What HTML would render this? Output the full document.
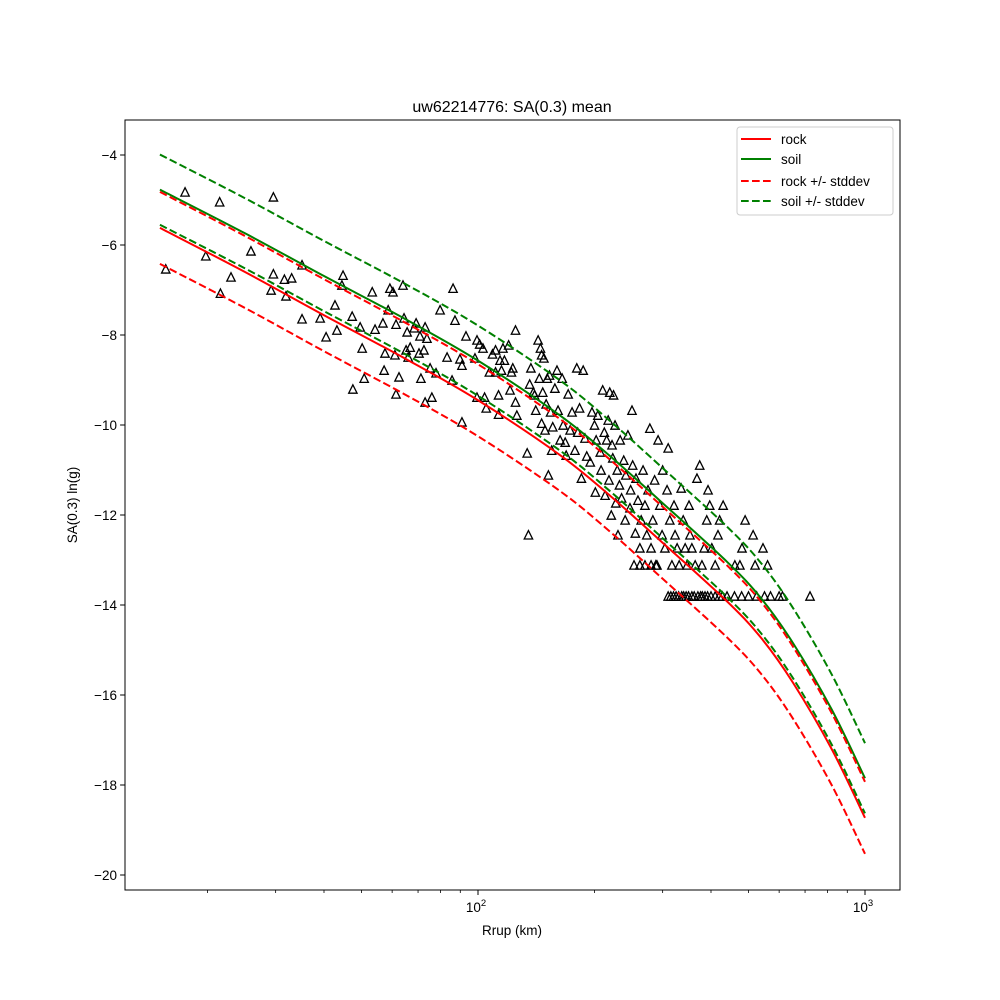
<!DOCTYPE html>
<html><head><meta charset="utf-8"><style>
body{margin:0;background:#fff;}
svg{display:block;font-family:"Liberation Sans","DejaVu Sans",sans-serif;}
</style></head><body>
<svg id="chart" width="1000" height="1000" viewBox="0 0 1000 1000" xmlns="http://www.w3.org/2000/svg">
<rect width="1000" height="1000" fill="#fff"/>
<text x="512" y="112" text-anchor="middle" font-size="16">uw62214776: SA(0.3) mean</text>
<g id="plot"></g>
<rect x="125" y="120" width="775" height="770" fill="none" stroke="#000" stroke-width="1"/>
<text x="512" y="935" text-anchor="middle" font-size="13.5">Rrup (km)</text>
<text transform="translate(77,505) rotate(-90)" text-anchor="middle" font-size="13.5">SA(0.3) ln(g)</text>
<g>
<rect x="737" y="127" width="156" height="88" rx="3" fill="#fff" fill-opacity="0.8" stroke="#ccc" stroke-width="1"/>
<line x1="741" y1="139" x2="771" y2="139" stroke="#ff0000" stroke-width="2"/>
<text x="781" y="144" font-size="13.5">rock</text>
<line x1="741" y1="159" x2="771" y2="159" stroke="#008000" stroke-width="2"/>
<text x="781" y="164" font-size="13.5">soil</text>
<line x1="741" y1="181" x2="771" y2="181" stroke="#ff0000" stroke-width="2" stroke-dasharray="7.7,3.3"/>
<text x="781" y="186" font-size="13.5">rock +/- stddev</text>
<line x1="741" y1="201" x2="771" y2="201" stroke="#008000" stroke-width="2" stroke-dasharray="7.7,3.3"/>
<text x="781" y="206" font-size="13.5">soil +/- stddev</text>
</g>
</svg>
<script>
const curveDist = [15.07,25,40,65,100,163,220,295,440,540,652,820,1000];
const rockMean = [-5.62,-6.60,-7.56,-8.53,-9.45,-10.67,-11.58,-12.56,-13.92,-14.74,-15.73,-17.20,-18.73];
const soilMean = [-4.77,-5.74,-6.69,-7.65,-8.57,-9.79,-10.70,-11.68,-13.04,-13.86,-14.85,-16.32,-17.85];
const rockStd = 0.8;
const soilStd = 0.78;
const yTicks = [-4,-6,-8,-10,-12,-14,-16,-18,-20];
const xMajor = [100,1000];
const xMinor = [20,30,40,50,60,70,80,90,200,300,400,500,600,700,800,900];
const obsDist = [15.6,17.5,19.8,21.5,21.6,23,25.9,29.2,29.6,29.6,31.6,31.9,33,35.1,35.1,39.1,40.5,42.7,43.2,44.5,44.8,47.3,47.5,49.6,50.2,50.8,53.3,54.2,56.8,57.2,57.5,58.6,59.2,60.3,61,61.4,61.4,62.5,64,64.4,65.2,65.6,66,66.8,68.4,69.2,70.4,70.8,71.2,72.5,73,73,73.8,75.2,76,77.9,79.8,83.2,85.7,86.2,87.2,89.8,90.9,90.9,93.1,98.2,99.4,99.4,101,103,104,105,107,109,111,111,113,113,114,115,116,117,120,121,122,123,125,125,126,134,135,136,137,139,140,141,143,144,145,146,146,147,148,149,150,151,152,153,154,155,156,158,160,161,163,165,166,168,169,171,173,175,178,180,181,183,185,187,189,191,195,197,200,201,202,204,207,208,210,212,213,215,217,218,219,221,222,223,224,226,227,229,230,232,233,235,238,240,241,244,247,248,250,251,255,256,259,262,264,267,270,273,275,278,280,283,286,288,292,295,299,300,304,308,310,313,317,321,323,327,331,335,339,343,347,351,353,357,364,368,374,379,384,390,393,397,402,410,417,421,430,461,475,481,490,520,545,560,514,253,262,270,280,290,310,315,320,325,330,336,340,345,350,357,362,370,376,380,386,392,400,410,420,428,440,460,480,500,525,550,570,600,612,721];
const obsVal = [-6.53,-4.82,-6.24,-5.04,-7.07,-6.71,-6.13,-7.0,-4.93,-6.64,-6.76,-7.13,-6.73,-6.44,-7.64,-7.62,-8.04,-7.33,-7.89,-6.89,-6.67,-7.58,-9.2,-7.82,-8.29,-8.96,-7.04,-7.87,-7.73,-8.78,-8.4,-7.44,-6.96,-7.04,-8.44,-7.76,-9.31,-8.93,-6.89,-7.62,-8.33,-7.93,-8.49,-8.27,-7.84,-7.73,-8.4,-8.02,-8.96,-8.33,-7.82,-9.49,-8.07,-8.73,-9.38,-8.84,-7.44,-8.49,-9.0,-6.96,-7.67,-8.53,-9.93,-8.67,-8.02,-8.51,-9.38,-8.11,-8.2,-8.29,-9.38,-9.62,-8.82,-8.42,-8.33,-8.82,-9.76,-9.33,-8.56,-8.78,-8.29,-8.56,-8.22,-9.22,-8.82,-8.73,-7.89,-9.49,-9.78,-10.62,-12.44,-9.09,-8.73,-9.27,-9.33,-9.67,-8.11,-8.96,-8.29,-9.96,-8.44,-9.27,-8.51,-10.11,-9.53,-8.96,-11.11,-8.89,-9.71,-10.56,-10.04,-9.18,-8.78,-9.67,-10.33,-8.96,-10.0,-10.38,-10.67,-9.31,-10.11,-9.71,-10.56,-8.73,-10.16,-9.62,-11.18,-8.78,-10.29,-10.69,-10.82,-9.71,-10.0,-11.49,-10.33,-9.78,-10.6,-11.0,-9.22,-10.16,-11.56,-10.33,-9.89,-11.22,-9.27,-12.0,-10.44,-10.73,-9.33,-10.0,-11.73,-11.0,-12.44,-11.33,-10.33,-11.62,-10.78,-12.11,-11.11,-10.22,-11.84,-11.44,-9.67,-10.89,-12.4,-11.18,-11.67,-12.73,-12.11,-11.0,-11.78,-12.44,-11.44,-10.07,-12.73,-12.11,-11.22,-13.11,-10.33,-11.78,-12.44,-11.0,-12.73,-11.44,-10.51,-12.11,-13.11,-11.78,-12.44,-12.73,-13.11,-11.4,-12.11,-12.73,-13.11,-11.78,-12.44,-12.73,-13.11,-11.18,-10.89,-13.11,-12.73,-12.11,-11.44,-11.78,-12.73,-13.11,-12.44,-12.11,-11.78,-13.11,-13.11,-12.73,-12.11,-13.11,-12.73,-13.11,-12.44,-13.11,-13.11,-13.11,-13.11,-13.11,-13.8,-13.8,-13.8,-13.8,-13.8,-13.8,-13.8,-13.8,-13.8,-13.8,-13.8,-13.8,-13.8,-13.8,-13.8,-13.8,-13.8,-13.8,-13.8,-13.8,-13.8,-13.8,-13.8,-13.8,-13.8,-13.8,-13.8,-13.8,-13.8,-13.8];

const NS = "http://www.w3.org/2000/svg";
const plot = document.getElementById('plot');
const svg = document.getElementById('chart');
function xPos(r){ return 478 + (Math.log10(r) - 2) * 387; }
function yPos(v){ return 155 + (-4 - v) * 45; }
function mk(tag, attrs, parent){
  const el = document.createElementNS(NS, tag);
  for (const k in attrs) el.setAttribute(k, attrs[k]);
  (parent || plot).appendChild(el);
  return el;
}
function smoothPath(pts){
  let d = `M${pts[0][0].toFixed(2)},${pts[0][1].toFixed(2)}`;
  for (let i = 0; i < pts.length - 1; i++){
    const p0 = pts[Math.max(0, i-1)], p1 = pts[i], p2 = pts[i+1], p3 = pts[Math.min(pts.length-1, i+2)];
    const c1x = p1[0] + (p2[0]-p0[0])/6, c1y = p1[1] + (p2[1]-p0[1])/6;
    const c2x = p2[0] - (p3[0]-p1[0])/6, c2y = p2[1] - (p3[1]-p1[1])/6;
    d += ` C${c1x.toFixed(2)},${c1y.toFixed(2)} ${c2x.toFixed(2)},${c2y.toFixed(2)} ${p2[0].toFixed(2)},${p2[1].toFixed(2)}`;
  }
  return d;
}
function curve(vals, off, color, dashed, name){
  const pts = curveDist.map((d,i)=>[xPos(d), yPos(vals[i]+off)]);
  const el = mk('path', {d: smoothPath(pts), fill: 'none', stroke: color, 'stroke-width': 2});
  if (dashed) el.setAttribute('stroke-dasharray', '7.7,3.3');
  
  
}
for (let i = 0; i < obsDist.length; i++){
  const x = xPos(obsDist[i]), y = yPos(obsVal[i]);
  const el = mk('path', {d: `M${x.toFixed(2)},${(y-4.2).toFixed(2)} L${(x-4.2).toFixed(2)},${(y+4.2).toFixed(2)} L${(x+4.2).toFixed(2)},${(y+4.2).toFixed(2)} Z`, fill: 'none', stroke: '#000', 'stroke-width': 1.3});
  
  
}
curve(rockMean, 0, '#ff0000', false, 'rock-mean-line');
curve(soilMean, 0, '#008000', false, 'soil-mean-line');
curve(rockMean, rockStd, '#ff0000', true, 'rock-plus-stddev-line');
curve(rockMean, -rockStd, '#ff0000', true, 'rock-minus-stddev-line');
curve(soilMean, soilStd, '#008000', true, 'soil-plus-stddev-line');
curve(soilMean, -soilStd, '#008000', true, 'soil-minus-stddev-line');
yTicks.forEach(v=>{
  const y = yPos(v);
  const t = mk('line', {x1: 120.1, x2: 125, y1: y, y2: y, stroke: '#000', 'stroke-width': 1}, svg);
  
  
  const l = mk('text', {x: 117, y: y + 5, 'text-anchor': 'end', 'font-size': 13.5}, svg);
  l.textContent = '\u2212' + Math.abs(v);
  
  
});
xMajor.forEach(r=>{
  const x = xPos(r);
  const t = mk('line', {x1: x, x2: x, y1: 890, y2: 895, stroke: '#000', 'stroke-width': 1}, svg);
  
  
  const l = mk('text', {x: x - 2, y: 912, 'text-anchor': 'middle', 'font-size': 13.5}, svg);
  l.textContent = '10';
  const s = document.createElementNS(NS, 'tspan');
  s.setAttribute('dy', '-6'); s.setAttribute('font-size', '9.5');
  s.textContent = String(Math.round(Math.log10(r)));
  l.appendChild(s);
  
  
});
xMinor.forEach(r=>{
  const x = xPos(r);
  const t = mk('line', {x1: x, x2: x, y1: 890, y2: 893, stroke: '#000', 'stroke-width': 0.8}, svg);
  
  
});
</script>
</body></html>
